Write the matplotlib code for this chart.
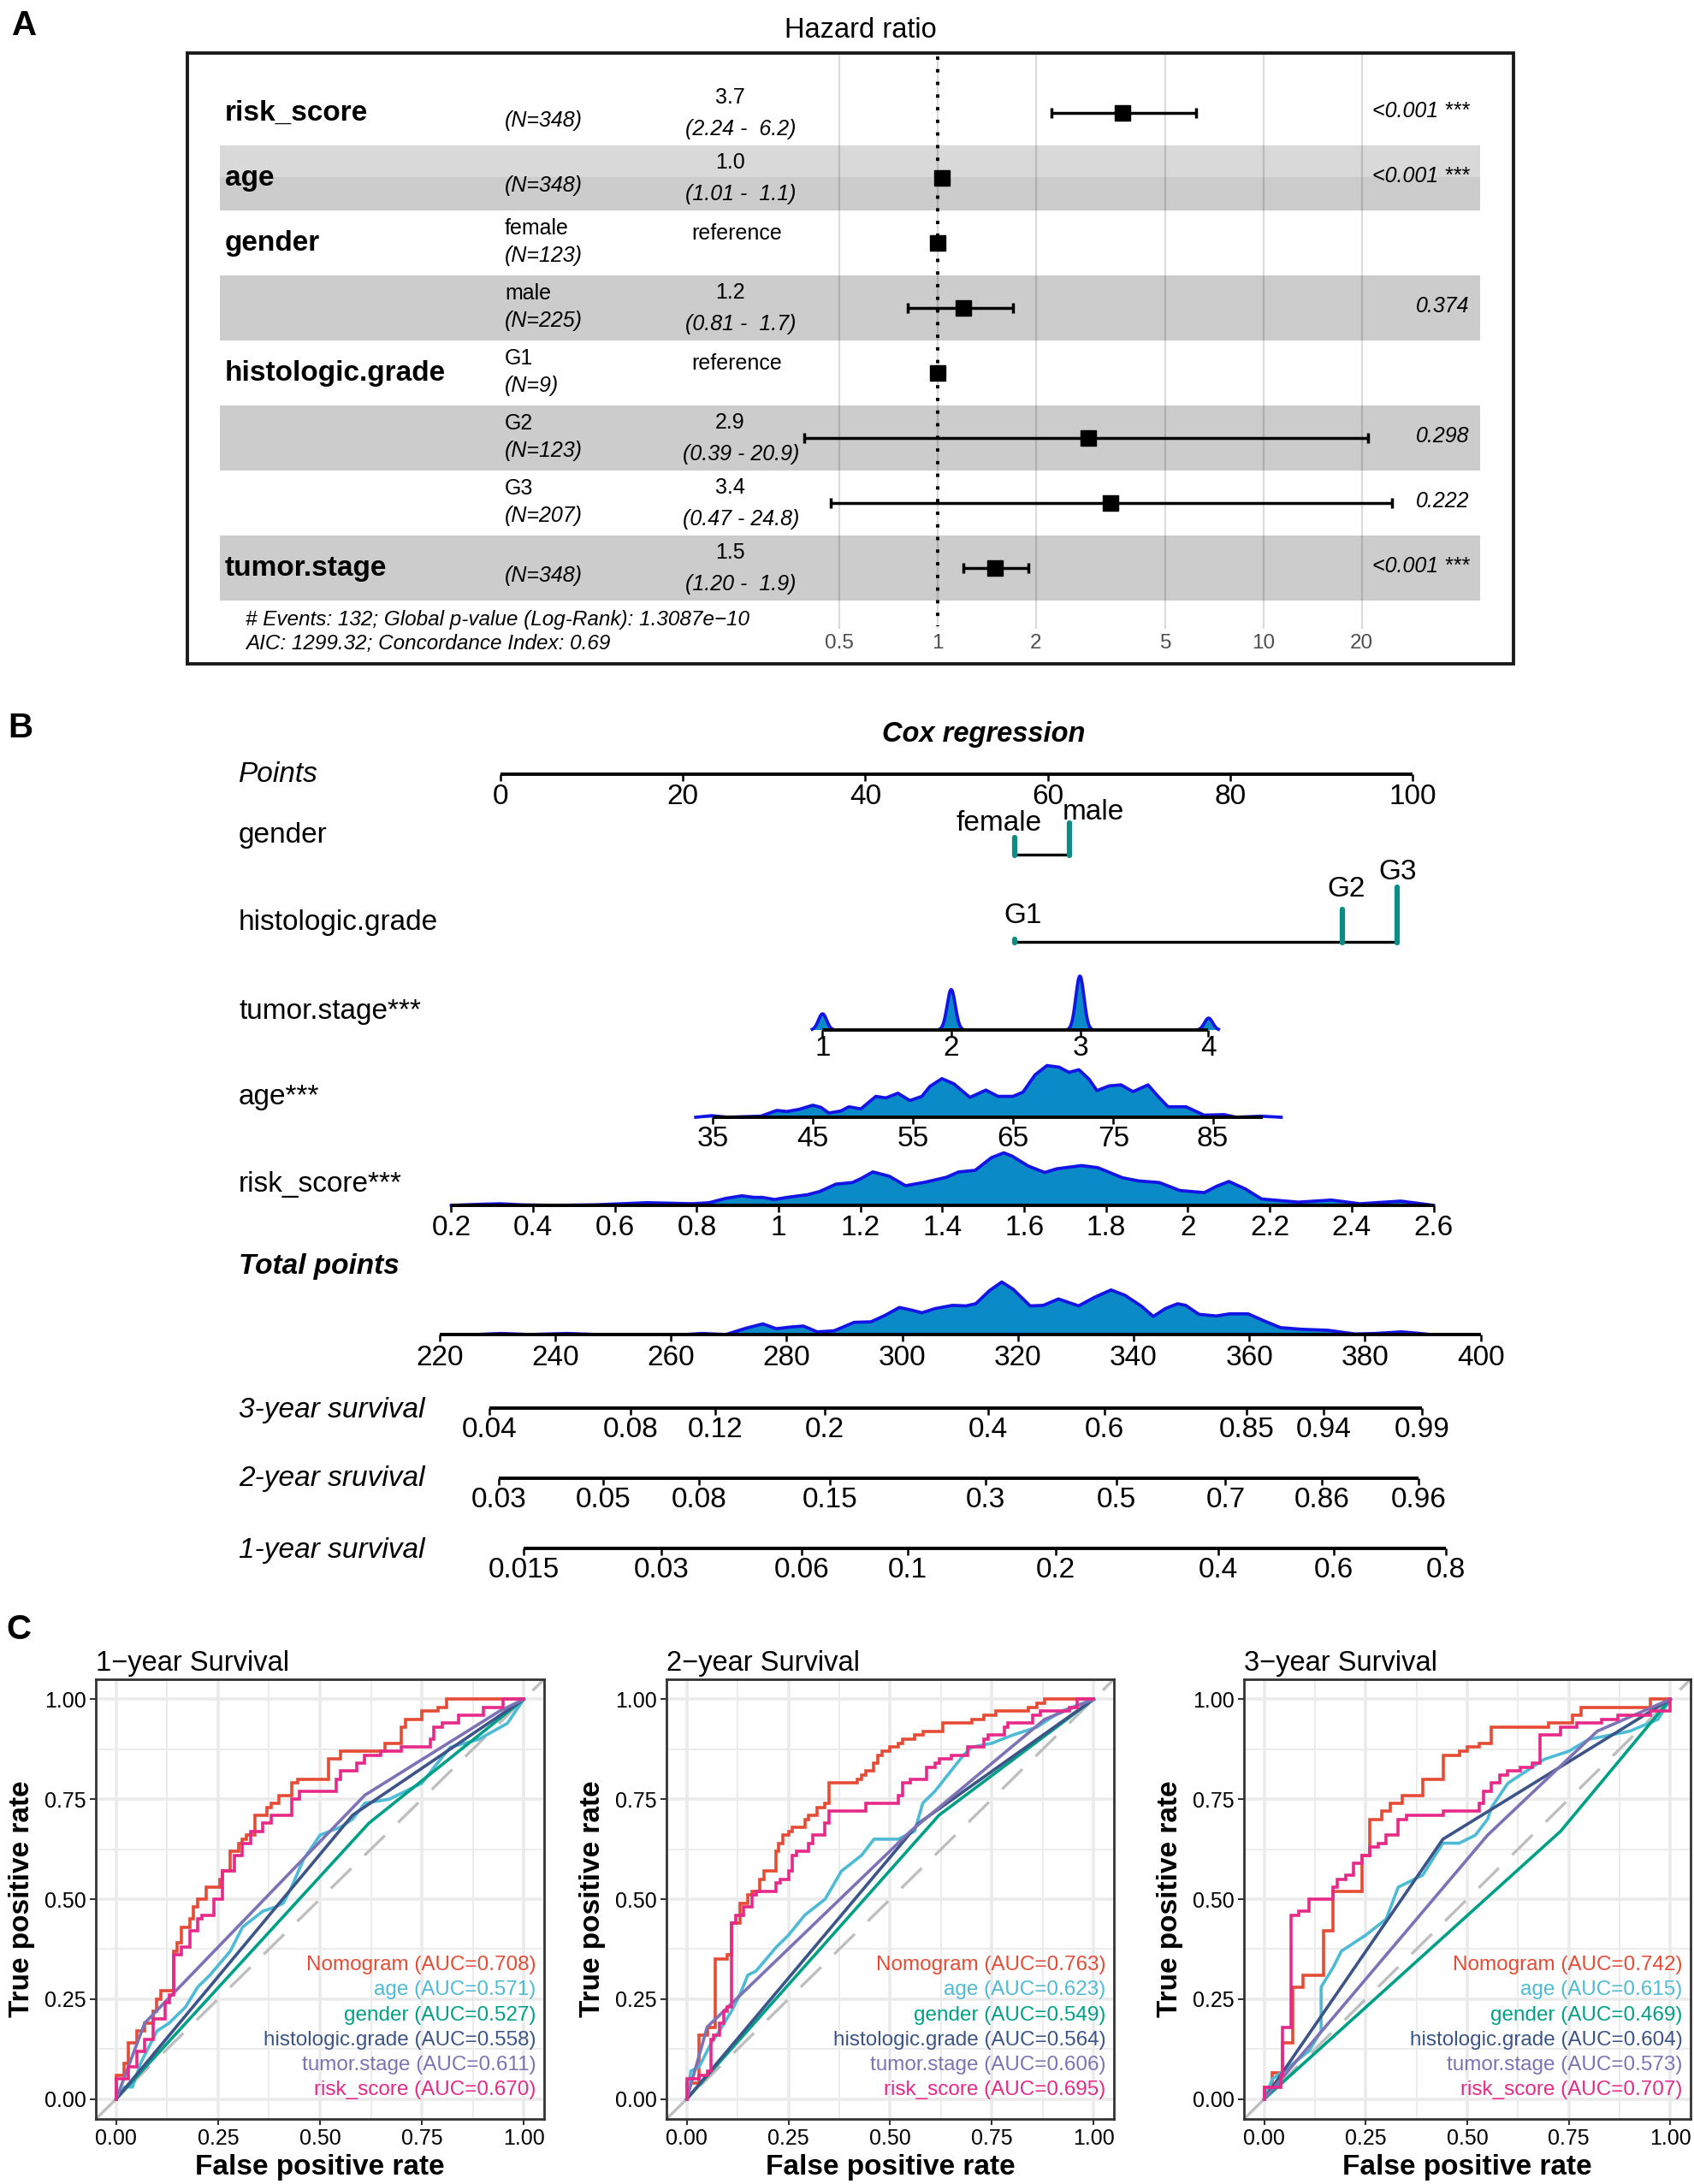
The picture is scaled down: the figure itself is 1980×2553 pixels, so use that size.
import numpy as np
import matplotlib
matplotlib.use('Agg')
import matplotlib.pyplot as plt
from matplotlib.patches import Rectangle

# ======================= DATA =======================
# ---- Panel A: Cox forest plot ----
forest_vars = ['risk_score', 'age', 'gender', '', 'histologic.grade', '', '', 'tumor.stage']
forest_levels = ['', '', 'female', 'male', 'G1', 'G2', 'G3', '']
forest_n = [348, 348, 123, 225, 9, 123, 207, 348]
forest_hr = [3.7, 1.03, 1.0, 1.2, 1.0, 2.9, 3.4, 1.5]
forest_lo = [2.24, 1.01, None, 0.81, None, 0.39, 0.47, 1.20]
forest_hi = [6.2, 1.06, None, 1.7, None, 20.9, 24.8, 1.9]
forest_p = ['<0.001 ***', '<0.001 ***', '', '0.374', '', '0.298', '0.222', '<0.001 ***']
forest_ticks = [0.5, 1, 2, 5, 10, 20]
forest_footer = ['# Events: 132; Global p-value (Log-Rank): 1.3087e\u221210',
                 'AIC: 1299.32; Concordance Index: 0.69']

# ---- Panel B: nomogram ----
points_ticks = [0, 20, 40, 60, 80, 100]
gender_levels = ['female', 'male']
gender_pts = [56.4, 62.4]
gender_n = [123, 225]
grade_levels = ['G1', 'G2', 'G3']
grade_pts = [56.4, 92.3, 98.3]
grade_n = [9, 123, 207]
stage_ticks = [1, 2, 3, 4]
stage_pts = [35.3, 49.4, 63.6, 77.6]
stage_rel = [0.30, 0.75, 1.00, 0.22]
age_ticks = [35, 45, 55, 65, 75, 85]
age_pts = [23.3, 34.2, 45.2, 56.2, 67.2, 78.1]
age_range = [35, 90]
risk_ticks = [0.2, 0.4, 0.6, 0.8, 1.0, 1.2, 1.4, 1.6, 1.8, 2.0, 2.2, 2.4, 2.6]
risk_tick_labels = ['0.2', '0.4', '0.6', '0.8', '1', '1.2', '1.4', '1.6', '1.8', '2', '2.2', '2.4', '2.6']
risk_scale_val = [0.2, 2.6]
risk_scale_pts = [-5.4, 102.3]
total_ticks = [220, 240, 260, 280, 300, 320, 340, 360, 380, 400]

age_dens_x = [33.3, 34.9, 36.5, 38.1, 39.8, 41.4, 42.4, 43.6, 45.0, 45.8, 46.6, 47.8, 48.6, 49.8, 51.3,
              52.3, 53.5, 54.7, 55.9, 56.7, 57.9, 59.1, 60.7, 62.3, 63.5, 65.0, 66.0, 67.2, 68.4, 69.6,
              70.6, 71.6, 72.6, 73.4, 74.6, 75.8, 77.0, 78.5, 79.5, 80.5, 82.3, 84.1, 86.1, 87.3, 89.8, 91.8]
age_dens_y = [0, 0.03, 0, 0.01, 0.02, 0.13, 0.11, 0.15, 0.23, 0.19, 0.08, 0.12, 0.20, 0.16, 0.40,
              0.37, 0.46, 0.32, 0.40, 0.59, 0.74, 0.64, 0.38, 0.52, 0.40, 0.40, 0.48, 0.81, 0.99, 0.96,
              0.86, 0.91, 0.73, 0.51, 0.60, 0.62, 0.49, 0.62, 0.40, 0.20, 0.20, 0.04, 0.05, 0.0, 0.02, 0]
risk_dens_x = [0.20, 0.27, 0.32, 0.37, 0.45, 0.55, 0.68, 0.79, 0.83, 0.87, 0.91, 0.94, 0.96, 0.99, 1.02,
               1.07, 1.10, 1.14, 1.18, 1.20, 1.23, 1.27, 1.31, 1.36, 1.41, 1.44, 1.48, 1.52, 1.55, 1.57,
               1.61, 1.65, 1.68, 1.74, 1.78, 1.84, 1.88, 1.93, 1.98, 2.04, 2.07, 2.10, 2.14, 2.18, 2.21,
               2.27, 2.35, 2.42, 2.52, 2.60]
risk_dens_y = [0, 0.02, 0.03, 0.01, 0, 0.01, 0.05, 0.03, 0.05, 0.13, 0.18, 0.15, 0.15, 0.11, 0.15,
               0.20, 0.26, 0.40, 0.43, 0.50, 0.63, 0.55, 0.37, 0.44, 0.53, 0.63, 0.66, 0.90, 0.99, 0.93,
               0.74, 0.62, 0.69, 0.75, 0.71, 0.52, 0.46, 0.43, 0.28, 0.24, 0.36, 0.45, 0.31, 0.12, 0.10,
               0.06, 0.10, 0.03, 0.08, 0]
total_dens_x = [226.2, 230.6, 235.6, 242.0, 247.3, 262.5, 265.4, 269.5, 273.0, 275.9, 278.2, 280.6, 282.9,
                285.3, 288.2, 291.7, 294.6, 297.0, 299.5, 301.6, 303.4, 305.7, 308.7, 311.0, 312.7, 315.1,
                317.2, 319.2, 322.1, 324.4, 327.0, 330.5, 333.2, 336.1, 338.5, 341.4, 343.4, 345.5, 347.6,
                349.0, 351.3, 354.3, 356.6, 359.8, 362.5, 365.4, 368.9, 373.6, 378.3, 381.8, 386.4, 390.5, 391.1]
total_dens_y = [0, 0.02, 0, 0.02, 0, 0, 0.02, 0, 0.12, 0.20, 0.11, 0.14, 0.16,
                0.05, 0.07, 0.23, 0.24, 0.36, 0.51, 0.46, 0.41, 0.49, 0.55, 0.54, 0.58, 0.83,
                0.99, 0.85, 0.54, 0.55, 0.67, 0.54, 0.70, 0.84, 0.74, 0.53, 0.34, 0.49, 0.58,
                0.55, 0.38, 0.35, 0.39, 0.39, 0.26, 0.13, 0.10, 0.08, 0.01, 0.02, 0.05, 0.01, 0]

surv3_labels = ['0.04', '0.08', '0.12', '0.2', '0.4', '0.6', '0.85', '0.94', '0.99']
surv3_total = [228.6, 253.0, 267.6, 286.6, 314.9, 334.9, 359.6, 372.9, 389.9]
surv2_labels = ['0.03', '0.05', '0.08', '0.15', '0.3', '0.5', '0.7', '0.86', '0.96']
surv2_total = [230.3, 248.3, 264.8, 287.5, 314.4, 337.0, 355.9, 372.6, 389.3]
surv1_labels = ['0.015', '0.03', '0.06', '0.1', '0.2', '0.4', '0.6', '0.8']
surv1_total = [234.6, 258.4, 282.6, 300.9, 326.5, 354.7, 374.6, 394.0]

# ---- Panel C: time-dependent ROC ----
model_names = ['Nomogram', 'age', 'gender', 'histologic.grade', 'tumor.stage', 'risk_score']
model_colors = ['#E64B35', '#4DBBD5', '#00A087', '#3C5488', '#7E72B6', '#E7298A']
auc_1y = [0.708, 0.571, 0.527, 0.558, 0.611, 0.670]
auc_2y = [0.763, 0.623, 0.549, 0.564, 0.606, 0.695]
auc_3y = [0.742, 0.615, 0.469, 0.604, 0.573, 0.707]

nomo_1y = [(0, 0), (0, 0.04), (0.02, 0.06), (0.03, 0.09), (0.05, 0.14), (0.07, 0.17), (0.09, 0.19), (0.1, 0.22),
           (0.11, 0.25), (0.11, 0.27), (0.14, 0.27), (0.14, 0.34), (0.15, 0.37), (0.16, 0.39), (0.18, 0.43),
           (0.19, 0.45), (0.2, 0.48), (0.22, 0.50), (0.22, 0.53), (0.255, 0.53), (0.26, 0.55), (0.28, 0.57),
           (0.28, 0.60), (0.3, 0.62), (0.31, 0.64), (0.32, 0.65), (0.34, 0.66), (0.34, 0.70), (0.37, 0.71),
           (0.38, 0.73), (0.4, 0.74), (0.43, 0.76), (0.445, 0.79), (0.48, 0.80), (0.52, 0.80), (0.52, 0.83),
           (0.55, 0.85), (0.59, 0.87), (0.66, 0.87), (0.66, 0.89), (0.70, 0.89), (0.71, 0.93), (0.75, 0.95),
           (0.79, 0.97), (0.81, 0.98), (0.85, 1.0), (1.0, 1.0)]
age_1y = [(0, 0), (0.02, 0.03), (0.04, 0.03), (0.06, 0.09), (0.1, 0.17), (0.13, 0.19), (0.17, 0.23), (0.2, 0.28),
          (0.23, 0.31), (0.28, 0.37), (0.31, 0.43), (0.36, 0.47), (0.39, 0.48), (0.41, 0.49), (0.43, 0.53),
          (0.46, 0.60), (0.5, 0.66), (0.55, 0.68), (0.58, 0.70), (0.61, 0.74), (0.67, 0.75), (0.71, 0.77),
          (0.75, 0.79), (0.78, 0.83), (0.82, 0.88), (0.89, 0.90), (0.96, 0.94), (1, 1)]
gender_1y = [(0, 0), (0.62, 0.69), (1, 1)]
grade_1y = [(0, 0), (0.58, 0.71), (1, 1)]
stage_1y = [(0, 0), (0.07, 0.19), (0.61, 0.76), (0.94, 0.97), (1, 1)]
risk_1y = [(0, 0), (0, 0.03), (0.03, 0.05), (0.05, 0.08), (0.07, 0.12), (0.09, 0.15), (0.12, 0.20), (0.13, 0.24),
           (0.14, 0.26), (0.14, 0.33), (0.16, 0.36), (0.18, 0.38), (0.2, 0.42), (0.21, 0.45), (0.24, 0.46),
           (0.26, 0.50), (0.26, 0.55), (0.29, 0.57), (0.31, 0.61), (0.33, 0.64), (0.36, 0.67), (0.38, 0.69),
           (0.43, 0.71), (0.45, 0.75), (0.46, 0.77), (0.54, 0.77), (0.55, 0.80), (0.59, 0.82), (0.61, 0.84),
           (0.65, 0.86), (0.7, 0.87), (0.72, 0.88), (0.77, 0.88), (0.78, 0.90), (0.80, 0.93), (0.84, 0.94),
           (0.9, 0.96), (0.95, 0.98), (1, 1)]

nomo_2y = [(0, 0), (0, 0.04), (0.03, 0.04), (0.03, 0.16), (0.05, 0.16), (0.05, 0.18), (0.07, 0.18), (0.07, 0.31),
           (0.08, 0.35), (0.1, 0.35), (0.1, 0.36), (0.11, 0.36), (0.11, 0.43), (0.13, 0.44), (0.15, 0.49),
           (0.16, 0.51), (0.18, 0.52), (0.19, 0.55), (0.22, 0.57), (0.225, 0.62), (0.235, 0.64), (0.25, 0.66),
           (0.26, 0.67), (0.29, 0.68), (0.3, 0.70), (0.32, 0.71), (0.34, 0.73), (0.35, 0.74), (0.355, 0.79),
           (0.42, 0.79), (0.43, 0.80), (0.44, 0.81), (0.46, 0.82), (0.47, 0.84), (0.48, 0.86), (0.5, 0.87),
           (0.52, 0.88), (0.53, 0.89), (0.56, 0.90), (0.58, 0.91), (0.6, 0.92), (0.63, 0.92), (0.63, 0.94),
           (0.7, 0.94), (0.73, 0.95), (0.76, 0.96), (0.84, 0.97), (0.86, 0.98), (0.88, 0.99), (0.9, 1.0), (1, 1)]
age_2y = [(0, 0), (0.01, 0.07), (0.03, 0.08), (0.06, 0.14), (0.08, 0.17), (0.11, 0.22), (0.13, 0.26), (0.15, 0.31),
          (0.17, 0.32), (0.22, 0.38), (0.25, 0.41), (0.29, 0.46), (0.34, 0.50), (0.38, 0.57), (0.43, 0.61),
          (0.46, 0.65), (0.52, 0.65), (0.56, 0.67), (0.58, 0.74), (0.61, 0.77), (0.68, 0.86), (0.70, 0.88),
          (0.75, 0.89), (0.8, 0.91), (0.86, 0.93), (0.92, 0.97), (1, 1)]
gender_2y = [(0, 0), (0.62, 0.71), (1, 1)]
grade_2y = [(0, 0), (0.57, 0.69), (1, 1)]
stage_2y = [(0, 0), (0.05, 0.18), (0.55, 0.67), (0.88, 0.95), (1, 1)]
risk_2y = [(0, 0), (0, 0.04), (0.03, 0.05), (0.05, 0.06), (0.06, 0.07), (0.065, 0.15), (0.08, 0.16), (0.09, 0.19),
           (0.1, 0.22), (0.11, 0.23), (0.11, 0.43), (0.12, 0.44), (0.14, 0.46), (0.16, 0.48), (0.17, 0.51),
           (0.19, 0.52), (0.22, 0.52), (0.23, 0.54), (0.25, 0.55), (0.26, 0.57), (0.27, 0.61), (0.3, 0.62),
           (0.31, 0.64), (0.34, 0.66), (0.35, 0.69), (0.37, 0.72), (0.44, 0.72), (0.45, 0.74), (0.52, 0.74),
           (0.53, 0.76), (0.55, 0.79), (0.59, 0.80), (0.61, 0.83), (0.62, 0.84), (0.65, 0.85), (0.69, 0.86),
           (0.7, 0.88), (0.73, 0.88), (0.74, 0.90), (0.78, 0.91), (0.79, 0.93), (0.85, 0.94), (0.87, 0.96),
           (0.94, 0.97), (0.96, 0.98), (1, 1)]

nomo_3y = [(0, 0), (0, 0.03), (0.02, 0.03), (0.025, 0.065), (0.045, 0.065), (0.045, 0.14), (0.07, 0.14),
           (0.07, 0.28), (0.095, 0.28), (0.095, 0.31), (0.145, 0.31), (0.145, 0.42), (0.17, 0.42), (0.17, 0.52),
           (0.24, 0.52), (0.24, 0.61), (0.26, 0.61), (0.26, 0.69), (0.29, 0.70), (0.31, 0.72), (0.34, 0.74),
           (0.34, 0.76), (0.39, 0.76), (0.39, 0.78), (0.41, 0.80), (0.44, 0.80), (0.44, 0.85), (0.48, 0.86),
           (0.5, 0.87), (0.53, 0.88), (0.56, 0.89), (0.56, 0.92), (0.67, 0.93), (0.7, 0.93), (0.76, 0.94),
           (0.78, 0.96), (0.85, 0.98), (0.95, 0.98), (0.95, 1.0), (1, 1)]
age_3y = [(0, 0), (0.02, 0.05), (0.06, 0.08), (0.11, 0.12), (0.14, 0.17), (0.14, 0.28), (0.17, 0.33), (0.19, 0.37),
          (0.25, 0.41), (0.3, 0.45), (0.33, 0.53), (0.39, 0.56), (0.44, 0.64), (0.48, 0.64), (0.52, 0.66),
          (0.55, 0.70), (0.56, 0.73), (0.6, 0.79), (0.66, 0.83), (0.69, 0.85), (0.75, 0.87), (0.8, 0.90),
          (0.9, 0.92), (0.97, 0.95), (1, 1)]
gender_3y = [(0, 0), (0.73, 0.67), (1, 1)]
grade_3y = [(0, 0), (0.44, 0.65), (1, 1)]
stage_3y = [(0, 0), (0.55, 0.66), (0.82, 0.92), (1, 1)]
risk_3y = [(0, 0), (0, 0.03), (0.04, 0.03), (0.04, 0.06), (0.045, 0.06), (0.045, 0.18), (0.065, 0.18),
           (0.065, 0.45), (0.085, 0.46), (0.11, 0.47), (0.13, 0.50), (0.17, 0.50), (0.18, 0.53), (0.2, 0.55),
           (0.22, 0.56), (0.24, 0.59), (0.26, 0.61), (0.28, 0.63), (0.3, 0.64), (0.33, 0.66), (0.35, 0.70),
           (0.44, 0.71), (0.48, 0.72), (0.53, 0.72), (0.54, 0.74), (0.56, 0.77), (0.58, 0.79), (0.6, 0.81),
           (0.63, 0.82), (0.66, 0.83), (0.68, 0.84), (0.68, 0.90), (0.73, 0.91), (0.77, 0.93), (0.83, 0.94),
           (0.87, 0.95), (0.95, 0.96), (1.0, 0.97), (1.0, 1.0)]

roc_panels = [
    ('1\u2212year Survival', auc_1y, [nomo_1y, age_1y, gender_1y, grade_1y, stage_1y, risk_1y]),
    ('2\u2212year Survival', auc_2y, [nomo_2y, age_2y, gender_2y, grade_2y, stage_2y, risk_2y]),
    ('3\u2212year Survival', auc_3y, [nomo_3y, age_3y, gender_3y, grade_3y, stage_3y, risk_3y]),
]
step_models = ['Nomogram', 'risk_score']

# ======================= FIGURE =======================
W, H = 1980, 2553
plt.rcParams['font.family'] = ['Liberation Sans', 'DejaVu Sans']
fig = plt.figure(figsize=(W / 100, H / 100), dpi=100)
fig.patch.set_facecolor('white')


def px_axes(x0, y0, x1, y1, **kw):
    return fig.add_axes([x0 / W, 1 - y1 / H, (x1 - x0) / W, (y1 - y0) / H], **kw)


canvas = fig.add_axes([0, 0, 1, 1], zorder=10)
canvas.set_xlim(0, W)
canvas.set_ylim(H, 0)
canvas.axis('off')
canvas.patch.set_alpha(0)


def T(x, y, s, **kw):
    kw.setdefault('va', 'center')
    canvas.text(x, y, s, **kw)


# ---------------- Panel A ----------------
T(29, 30, 'A', fontsize=29, fontweight='bold', ha='center')
T(1006, 35, 'Hazard ratio', fontsize=23.5, ha='center')
canvas.add_patch(Rectangle((219, 62), 1550, 714, fill=False, ec='#1a1a1a', lw=2.8))

row_y0, row_dy = 132, 76
axF = px_axes(257, 62, 1730, 776)
axF.set_xscale('log')
axF.set_xlim(10 ** ((257 - 1096) / 381), 10 ** ((1730 - 1096) / 381))
row_top = (62 - row_y0) / row_dy
row_bot = (776 - row_y0) / row_dy
axF.set_ylim(row_bot, row_top)
axF.axis('off')
rows = np.arange(len(forest_hr))
for i in rows:
    if i % 2 == 1:
        axF.axhspan(i - 0.5, i + 0.5, color='#CCCCCC', lw=0, zorder=0)
axF.axhspan(0.5, 0.99, color='#D9D9D9', lw=0, zorder=0.5)
axF.vlines(forest_ticks, row_top, 7.93, color='black', alpha=0.14, lw=1.6, zorder=1)
axF.plot([1, 1], [row_top + 0.05, 7.9], color='black', lw=2.8, ls=(0, (1, 2.8)), zorder=2)
for i in rows:
    if forest_lo[i] is not None:
        axF.errorbar([forest_hr[i]], [i], xerr=[[forest_hr[i] - forest_lo[i]], [forest_hi[i] - forest_hr[i]]],
                     fmt='s', ms=13.5, color='black', ecolor='black', elinewidth=2.5, capsize=4, capthick=2.5,
                     zorder=3)
    else:
        axF.plot([forest_hr[i]], [i], 's', ms=13.5, color='black', zorder=3)
for t in forest_ticks:
    axF.text(t, (752 - row_y0) / row_dy, f'{t:g}', ha='center', va='center', fontsize=17.5, color='#4D4D4D')

for i in rows:
    yc = row_y0 + row_dy * i
    if forest_vars[i]:
        T(263, yc, forest_vars[i], fontsize=24, fontweight='bold')
    if forest_levels[i]:
        T(590, yc - 17, forest_levels[i], fontsize=18)
        T(590, yc + 15, f'(N={forest_n[i]})', fontsize=18, style='italic')
    else:
        T(590, yc + 9, f'(N={forest_n[i]})', fontsize=18, style='italic')
    if forest_lo[i] is None:
        T(861, yc - 11, 'reference', fontsize=18, ha='center')
    else:
        T(853, yc - 18, f'{forest_hr[i]:.1f}', fontsize=18, ha='center')
        T(866, yc + 19, f'({forest_lo[i]:.2f} - {forest_hi[i]:4.1f})', fontsize=18, ha='center', style='italic')
    if forest_p[i]:
        T(1717, yc - 2, forest_p[i], fontsize=18, ha='right', style='italic')
T(287, 724, forest_footer[0], fontsize=17.5, style='italic')
T(287, 752, forest_footer[1], fontsize=17.5, style='italic')

# ---------------- Panel B ----------------
T(24, 851, 'B', fontsize=29, fontweight='bold', ha='center')
T(1150, 858, 'Cox regression', fontsize=23.5, fontweight='bold', style='italic', ha='center')
FS_B = 24
DENS_FILL = '#0A8AC6'
DENS_EDGE = '#1414E6'
TEAL = '#0B8C84'


def lin(v, xs, ys):
    return np.polyval(np.polyfit(xs, ys, 1), np.asarray(v, dtype=float))


axP = px_axes(0, 820, W, 1460)
axP.set_xlim(-585 / 10.66, (W - 585) / 10.66)
axP.set_ylim(1460, 820)
axP.axis('off')

axT = px_axes(0, 1460, W, 1870)
axT.set_xlim(220 - 513.8 / 6.76, 220 + (W - 513.8) / 6.76)
axT.set_ylim(1870, 1460)
axT.axis('off')


def draw_scale(ax, xs, labels, y, lab_dy=26, x0=None, x1=None):
    x0 = min(xs) if x0 is None else x0
    x1 = max(xs) if x1 is None else x1
    ax.plot([x0, x1], [y, y], color='black', lw=2.8, solid_capstyle='butt', zorder=4)
    ax.vlines(xs, y, y + 8, color='black', lw=1.8, zorder=4)
    for x, l in zip(xs, labels):
        ax.text(x, y + lab_dy, l, ha='center', va='center', fontsize=FS_B)


def draw_density(ax, xs, ds, y, h):
    xs = np.asarray(xs, float)
    top = y - h * np.asarray(ds, float)
    ax.fill_between(xs, y, top, color=DENS_FILL, lw=0, zorder=2)
    ax.plot(xs, top, color=DENS_EDGE, lw=2.7, zorder=3)


# row labels
T(279, 905, 'Points', fontsize=FS_B, style='italic')
T(279, 976, 'gender', fontsize=FS_B)
T(279, 1078, 'histologic.grade', fontsize=FS_B)
T(279, 1182, 'tumor.stage***', fontsize=FS_B)
T(279, 1282, 'age***', fontsize=FS_B)
T(279, 1385, 'risk_score***', fontsize=FS_B)
T(279, 1481, 'Total points', fontsize=FS_B, fontweight='bold', style='italic')
T(279, 1648, '3-year survival', fontsize=FS_B, style='italic')
T(279, 1728, '2-year sruvival', fontsize=FS_B, style='italic')
T(279, 1813, '1-year survival', fontsize=FS_B, style='italic')

# Points
draw_scale(axP, points_ticks, [str(t) for t in points_ticks], 905, lab_dy=27)


# categorical variables
def draw_categorical(ax, pts, counts, levels, y, hmax, offsets):
    ax.plot([min(pts), max(pts)], [y, y], color='black', lw=2.4, zorder=3)
    hs = np.asarray(counts, float) / max(counts) * hmax
    for x, h, lev, (dx, dy) in zip(pts, hs, levels, offsets):
        ax.plot([x, x], [y + 1, y - max(h, 1.0)], color=TEAL, lw=4.5, solid_capstyle='round', zorder=4)
        ax.annotate(lev, (x, y - max(h, 1.0)), xytext=(dx, dy), textcoords='offset pixels',
                    ha='center', va='center', fontsize=FS_B)


draw_categorical(axP, gender_pts, gender_n, gender_levels, 999, 37, [(-19, 16), (28, 12)])
draw_categorical(axP, grade_pts, grade_n, grade_levels, 1101, 64, [(9, 28), (5, 23), (1, 18)])

# tumor stage (kernel density of the stage distribution)
sgrid = np.linspace(0.85, 4.15, 900)
sd = np.zeros_like(sgrid)
for s, r in zip(stage_ticks, stage_rel):
    sd += r * np.exp(-0.5 * ((sgrid - s) / 0.032) ** 2)
keep = sd > 0.01
sx = lin(sgrid, stage_ticks, stage_pts)
axP.fill_between(sx, 1204, 1204 - 63 * sd, where=keep, color=DENS_FILL, lw=0, zorder=2)
axP.plot(sx, np.ma.masked_where(~keep, 1204 - 63 * sd), color=DENS_EDGE, lw=2.7, zorder=3)
draw_scale(axP, stage_pts, [str(t) for t in stage_ticks], 1204, lab_dy=22)

# age
draw_density(axP, lin(age_dens_x, age_ticks, age_pts), age_dens_y, 1306, 61)
draw_scale(axP, age_pts, [str(t) for t in age_ticks], 1306,
           x0=float(lin(age_range[0], age_ticks, age_pts)), x1=float(lin(age_range[1], age_ticks, age_pts)))

# risk score
risk_pts = lin(risk_ticks, risk_scale_val, risk_scale_pts)
draw_density(axP, lin(risk_dens_x, risk_scale_val, risk_scale_pts), risk_dens_y, 1409, 62)
draw_scale(axP, risk_pts, risk_tick_labels, 1409)

# total points
draw_density(axT, total_dens_x, total_dens_y, 1560, 62)
draw_scale(axT, total_ticks, [str(t) for t in total_ticks], 1560, lab_dy=27)

# survival scales
draw_scale(axT, surv3_total, surv3_labels, 1646)
draw_scale(axT, surv2_total, surv2_labels, 1728)
draw_scale(axT, surv1_total, surv1_labels, 1810)

# ---------------- Panel C ----------------
T(22, 1905, 'C', fontsize=29, fontweight='bold', ha='center')
roc_boxes = [(112, 636), (779, 1302), (1454, 1976)]
major = [0, 0.25, 0.5, 0.75, 1.0]
minor = [0.125, 0.375, 0.625, 0.875]
for (x0, x1), (title, aucs, curves) in zip(roc_boxes, roc_panels):
    ax = px_axes(x0, 1963, x1, 2477)
    ax.set_xlim(-0.05, 1.05)
    ax.set_ylim(-0.05, 1.05)
    ax.set_xticks(major)
    ax.set_yticks(major)
    ax.set_xticks(minor, minor=True)
    ax.set_yticks(minor, minor=True)
    ax.set_xticklabels(['0.00', '0.25', '0.50', '0.75', '1.00'])
    ax.set_yticklabels(['0.00', '0.25', '0.50', '0.75', '1.00'])
    ax.grid(which='major', color='#EBEBEB', lw=2.6, zorder=0)
    ax.grid(which='minor', color='#EBEBEB', lw=1.3, zorder=0)
    ax.set_axisbelow(True)
    ax.tick_params(which='major', length=5, width=1.5, color='#333333', labelsize=18, pad=3)
    ax.tick_params(which='minor', length=0)
    for sp in ax.spines.values():
        sp.set_color('#333333')
        sp.set_linewidth(2.0)
    ax.plot([-0.05, 1.05], [-0.05, 1.05], color='#BEBEBE', lw=2.4, ls=(0, (10, 6.5)), zorder=1)
    for name, col, pts in zip(model_names, model_colors, curves):
        fx = [p[0] for p in pts]
        ty = [p[1] for p in pts]
        ds = 'steps-pre' if name in step_models else 'default'
        ax.plot(fx, ty, color=col, lw=2.6, drawstyle=ds, zorder=3, solid_joinstyle='miter')
    for k, (name, col, a) in enumerate(zip(model_names, model_colors, aucs)):
        ax.text(1.03, 0.335 - 0.0625 * k, f'{name} (AUC={a:.3f})', color=col, fontsize=17.5,
                ha='right', va='center', zorder=5)
    ax.set_title(title, loc='left', fontsize=23.5, pad=7)
    ax.set_xlabel('False positive rate', fontsize=24, fontweight='bold', labelpad=4)
    ax.set_ylabel('True positive rate', fontsize=24, fontweight='bold', labelpad=8)

fig.savefig('out.png', dpi=100, facecolor='white')
